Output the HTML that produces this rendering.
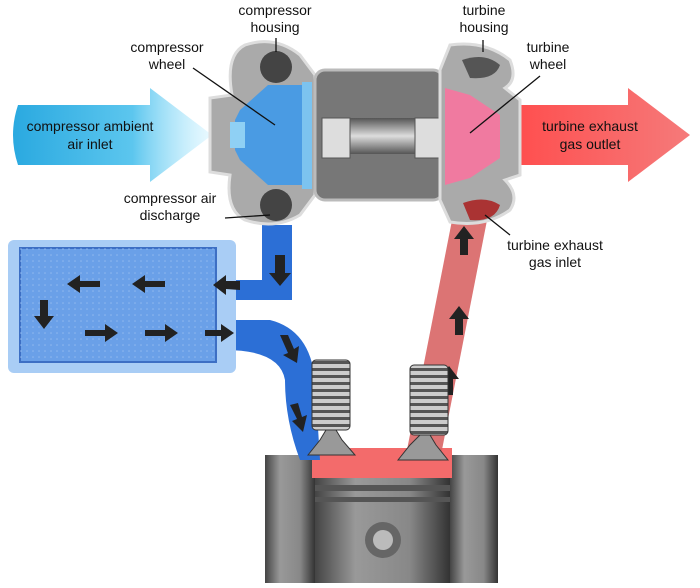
<!DOCTYPE html>
<html><head><style>
body{margin:0;background:#fff;width:700px;height:583px;overflow:hidden}
svg text{font-family:"Liberation Sans",sans-serif;font-size:14px;fill:#111}
</style></head><body>
<svg width="700" height="583" viewBox="0 0 700 583" xmlns="http://www.w3.org/2000/svg">
<defs>
<linearGradient id="bl" x1="0" x2="1"><stop offset="0" stop-color="#2aa9e0"/><stop offset="0.6" stop-color="#5cc6ee"/><stop offset="1" stop-color="#b8ecff" stop-opacity="0.3"/></linearGradient>
<linearGradient id="rd" x1="0" x2="1"><stop offset="0" stop-color="#ff4d4d"/><stop offset="1" stop-color="#f57a7a"/></linearGradient>
<linearGradient id="gv" x1="0" y1="0" x2="0" y2="1"><stop offset="0" stop-color="#555"/><stop offset="0.5" stop-color="#ddd"/><stop offset="1" stop-color="#555"/></linearGradient>
<linearGradient id="eng" x1="0" x2="1"><stop offset="0" stop-color="#444"/><stop offset="0.3" stop-color="#999"/><stop offset="0.7" stop-color="#888"/><stop offset="1" stop-color="#333"/></linearGradient>
<pattern id="dots" width="6" height="6" patternUnits="userSpaceOnUse"><circle cx="3" cy="3" r="0.8" fill="#8fb8ee"/></pattern>
<pattern id="coil" width="38" height="7" patternUnits="userSpaceOnUse"><rect width="38" height="7" fill="#ccc"/><rect y="4" width="38" height="3" fill="#555"/></pattern>
</defs>
<!-- engine -->
<rect x="265" y="455" width="50" height="128" fill="url(#eng)"/>
<rect x="450" y="455" width="48" height="128" fill="url(#eng)"/>
<rect x="312" y="448" width="140" height="30" fill="#f36b6b"/>
<rect x="315" y="478" width="135" height="105" fill="url(#eng)"/>
<rect x="315" y="485" width="135" height="6" fill="#555"/><rect x="315" y="497" width="135" height="5" fill="#555"/>
<circle cx="383" cy="540" r="18" fill="#666"/><circle cx="383" cy="540" r="10" fill="#bbb"/>
<!-- red pipe -->
<path d="M455 205 L490 205 L440 460 L405 460 Z" fill="#d86565" opacity="0.9"/>
<!-- blue pipes -->
<path d="M262 225 L292 225 L292 300 L230 300 L230 280 L262 280 Z" fill="#2c6fd6"/>
<path d="M225 320 L270 320 Q310 330 315 380 L320 460 L300 460 Q285 420 285 380 Q280 350 225 350 Z" fill="#2c6fd6"/>
<!-- intercooler -->
<rect x="8" y="240" width="228" height="133" rx="6" fill="#a9cdf5"/>
<rect x="20" y="248" width="196" height="114" fill="#6aa0e8" stroke="#3d6fc4" stroke-width="2"/>
<rect x="20" y="248" width="196" height="114" fill="url(#dots)"/>
<g fill="#222">
<path d="M275 255h10v18h6l-11 13-11-13h6z"/>
<path d="M240 290v-9h-14v-6l-13 10 13 10v-6z"/>
<path d="M165 287v-6h-20v-6l-13 9 13 9v-6z"/>
<path d="M100 287v-6h-20v-6l-13 9 13 9v-6z"/>
<path d="M40 300h8v16h6l-10 13-10-13h6z"/>
<path d="M85 330h20v-6l13 9-13 9v-6h-20z"/>
<path d="M145 330h20v-6l13 9-13 9v-6h-20z"/>
<path d="M205 330h16v-6l13 9-13 9v-6h-16z"/>
<path d="M280 335l8 0 6 14 5-3 -2 17-14-8 5-2z"/>
<path d="M290 405l8-2 4 14 5-2-4 17-11-11 5-2z"/>
<path d="M460 225h8v16h6l-10 13-10-13h6z" transform="rotate(180 464 240)"/>
<path d="M455 305h8v16h6l-10 13-10-13h6z" transform="rotate(180 459 320)"/>
<path d="M445 365h8v16h6l-10 13-10-13h6z" transform="rotate(180 449 380)"/>
</g>
<!-- valves -->
<g stroke="#333" stroke-width="1">
<rect x="312" y="360" width="38" height="70" rx="4" fill="url(#coil)"/>
<rect x="410" y="365" width="38" height="70" rx="4" fill="url(#coil)"/>
<path d="M308 455 L320 440 L326 430 L336 430 L342 440 L355 455Z" fill="#999"/>
<path d="M398 460 L410 445 L420 435 L430 435 L436 445 L448 460Z" fill="#999"/>
</g>
<!-- blue arrow -->
<path d="M18 105 H150 V88 L212 135 L150 182 V165 H18 Q8 135 18 105Z" fill="url(#bl)"/>
<!-- red arrow -->
<path d="M510 105 H628 V88 L690 135 L628 182 V165 H510Z" fill="url(#rd)"/>
<!-- compressor housing -->
<path d="M245 45 Q275 35 300 55 L315 75 L315 195 L300 215 Q275 230 245 220 Q225 210 230 175 L210 172 L210 98 L232 95 Q225 55 245 45Z" fill="#aaa" stroke="#ddd" stroke-width="3"/>
<circle cx="276" cy="67" r="16" fill="#444"/><circle cx="276" cy="205" r="16" fill="#444"/>
<path d="M240 110 L268 85 L305 85 L305 185 L268 185 L240 160 L235 150 L235 120Z" fill="#4a9be3"/>
<rect x="302" y="82" width="10" height="107" fill="#7cc3ef"/>
<rect x="230" y="122" width="15" height="26" fill="#8fd0f4"/>
<!-- center -->
<rect x="315" y="70" width="128" height="130" rx="10" fill="#777" stroke="#bbb" stroke-width="3"/>
<rect x="322" y="118" width="112" height="36" fill="url(#gv)"/>
<rect x="322" y="118" width="28" height="40" fill="#ddd" stroke="#555"/>
<rect x="415" y="118" width="28" height="40" fill="#ddd" stroke="#555"/>
<!-- turbine housing -->
<path d="M450 45 Q485 40 510 60 Q518 80 505 88 L520 100 L520 175 L505 180 Q520 195 510 210 Q485 228 450 222 L440 200 L440 70Z" fill="#aaa" stroke="#ddd" stroke-width="3"/>
<path d="M462 60 Q485 52 500 65 Q495 80 470 78Z" fill="#555"/>
<path d="M463 203 Q485 195 500 205 Q495 222 470 220Z" fill="#a33"/>
<path d="M445 88 L470 95 L500 115 L500 158 L470 178 L445 185Z" fill="#f07aa0"/>
<!-- leader lines -->
<g stroke="#111" stroke-width="1.3">
<line x1="276" y1="38" x2="276" y2="52"/><line x1="193" y1="68" x2="275" y2="125"/>
<line x1="225" y1="218" x2="270" y2="215"/><line x1="483" y1="40" x2="483" y2="52"/>
<line x1="540" y1="76" x2="470" y2="133"/><line x1="510" y1="235" x2="485" y2="215"/>
</g>
<!-- labels -->
<g text-anchor="middle">
<text x="275" y="15">compressor</text><text x="275" y="32">housing</text>
<text x="167" y="52">compressor</text><text x="167" y="69">wheel</text>
<text x="484" y="15">turbine</text><text x="484" y="32">housing</text>
<text x="548" y="52">turbine</text><text x="548" y="69">wheel</text>
<text x="170" y="203">compressor air</text><text x="170" y="220">discharge</text>
<text x="555" y="250">turbine exhaust</text><text x="555" y="267">gas inlet</text>
<text x="90" y="131" fill="#0b2a6e">compressor ambient</text><text x="90" y="149">air inlet</text>
<text x="590" y="131">turbine exhaust</text><text x="590" y="149">gas outlet</text>
</g>
</svg>
</body></html>
